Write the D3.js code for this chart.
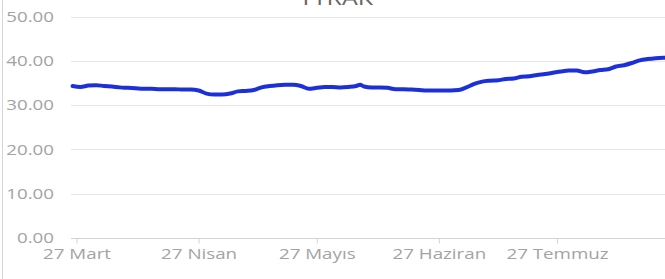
<!DOCTYPE html>
<html>
<head>
<meta charset="utf-8">
<script src="https://cdn.jsdelivr.net/npm/d3@7"></script>
<style>
  body { margin: 0; background: #fff; }
  svg { display: block; font-family: "Open Sans", sans-serif; }
</style>
</head>
<body>
<div class="plot"></div>
<script>
// TTRAK price series
const title = 'TTRAK';
const dates = [
    '2020-03-26', '2020-03-28', '2020-03-30', '2020-04-01', '2020-04-03', '2020-04-05',
    '2020-04-07', '2020-04-09', '2020-04-11', '2020-04-13', '2020-04-15', '2020-04-17',
    '2020-04-19', '2020-04-21', '2020-04-23', '2020-04-25', '2020-04-27', '2020-04-29',
    '2020-05-01', '2020-05-03', '2020-05-05', '2020-05-07', '2020-05-09', '2020-05-11',
    '2020-05-13', '2020-05-15', '2020-05-17', '2020-05-19', '2020-05-21', '2020-05-23',
    '2020-05-25', '2020-05-27', '2020-05-29', '2020-05-31', '2020-06-02', '2020-06-04',
    '2020-06-06', '2020-06-07', '2020-06-08', '2020-06-10', '2020-06-12', '2020-06-14',
    '2020-06-16', '2020-06-18', '2020-06-20', '2020-06-22', '2020-06-24', '2020-06-26',
    '2020-06-28', '2020-06-30', '2020-07-02', '2020-07-04', '2020-07-06', '2020-07-08',
    '2020-07-10', '2020-07-12', '2020-07-14', '2020-07-16', '2020-07-18', '2020-07-20',
    '2020-07-22', '2020-07-24', '2020-07-26', '2020-07-28', '2020-07-30', '2020-08-01',
    '2020-08-03', '2020-08-05', '2020-08-07', '2020-08-09', '2020-08-11', '2020-08-13',
    '2020-08-15', '2020-08-17', '2020-08-19', '2020-08-21', '2020-08-23', '2020-08-25'
];
const prices = [
    34.3, 34.1, 34.4, 34.5, 34.3, 34.2,
    34.0, 33.9, 33.8, 33.7, 33.7, 33.6,
    33.6, 33.6, 33.5, 33.5, 33.3, 32.6,
    32.4, 32.4, 32.6, 33.1, 33.2, 33.4,
    34.0, 34.3, 34.5, 34.6, 34.6, 34.3,
    33.7, 33.9, 34.1, 34.1, 34.0, 34.1,
    34.3, 34.6, 34.2, 34.0, 34.0, 33.9,
    33.6, 33.6, 33.5, 33.4, 33.3, 33.3,
    33.3, 33.3, 33.4, 34.0, 34.8, 35.3,
    35.5, 35.6, 35.9, 36.0, 36.4, 36.5,
    36.8, 37.0, 37.3, 37.6, 37.8, 37.8,
    37.4, 37.6, 37.9, 38.1, 38.7, 39.0,
    39.5, 40.1, 40.4, 40.6, 40.7, 40.6
];
const xTickDates = ['2020-03-27', '2020-04-27', '2020-05-27', '2020-06-27', '2020-07-27'];
const xTickLabels = ['27 Mart', '27 Nisan', '27 Mayıs', '27 Haziran', '27 Temmuz'];
const yTicks = [0, 10, 20, 30, 40, 50];

const W = 665, H = 279;
const parse = d3.timeParse('%Y-%m-%d');
const data = dates.map((d, i) => ({ date: parse(d), value: prices[i] }));
const stretch = 1.25; // reference text is drawn wide

const svg = d3.select('.plot')
    .append('svg')
    .attr('width', W)
    .attr('height', H);

// Mar 27 sits at x=76, Jul 27 at x=557
const xScale = d3.scaleTime()
    .domain([parse(xTickDates[0]), parse(xTickDates[4])])
    .range([76.5, 557]);

const yScale = d3.scaleLinear()
    .domain([0, 50])
    .range([238, 16.5]);

// frame line on the left
svg.append('line')
    .attr('x1', 2.5).attr('x2', 2.5)
    .attr('y1', 0).attr('y2', H)
    .attr('stroke', '#d6d6d6');

// gridlines
svg.append('g')
    .selectAll('line')
    .data(yTicks)
    .enter()
    .append('line')
    .attr('x1', 71)
    .attr('x2', W)
    .attr('y1', d => Math.round(yScale(d)) + 0.5)
    .attr('y2', d => Math.round(yScale(d)) + 0.5)
    .attr('stroke', d => d === 0 ? '#d4d4d4' : '#e6e6e6');

// y axis labels
const yAxis = d3.axisLeft(yScale)
    .tickValues(yTicks)
    .tickFormat(d3.format('.2f'))
    .tickSize(0)
    .tickPadding(0);

const yG = svg.append('g')
    .attr('transform', 'translate(54, 0)')
    .call(yAxis);
yG.select('.domain').remove();
yG.selectAll('text')
    .attr('fill', '#a3a3a3')
    .attr('font-size', '15px')
    .attr('font-family', '"Open Sans", sans-serif');

// x axis
const xAxis = d3.axisBottom(xScale)
    .tickValues(xTickDates.map(parse))
    .tickFormat((d, i) => xTickLabels[i])
    .tickSize(5)
    .tickPadding(5);

const xG = svg.append('g')
    .attr('transform', 'translate(0, 238.5)')
    .call(xAxis);
xG.select('.domain').remove();
xG.selectAll('line').attr('stroke', '#d4d4d4');
xG.selectAll('text')
    .attr('fill', '#a3a3a3')
    .attr('font-size', '15px')
    .attr('font-family', '"Open Sans", sans-serif');

// widen the texts like the reference
svg.selectAll('.tick text').each(function () {
    const w = this.getComputedTextLength();
    d3.select(this)
        .attr('textLength', w * stretch)
        .attr('lengthAdjust', 'spacingAndGlyphs');
});

// the price line
const line = d3.line()
    .x(d => xScale(d.date))
    .y(d => yScale(d.value))
    .curve(d3.curveMonotoneX);

svg.append('path')
    .datum(data)
    .attr('fill', 'none')
    .attr('stroke', '#1c30d8')
    .attr('stroke-width', 4)
    .attr('stroke-linejoin', 'round')
    .attr('stroke-linecap', 'round')
    .attr('d', line);

// title, cut by the top edge as in the reference
const t = svg.append('text')
    .text(title)
    .attr('x', 336)
    .attr('y', 5)
    .attr('text-anchor', 'middle')
    .attr('fill', '#666')
    .attr('font-size', '20px');
t.attr('textLength', t.node().getComputedTextLength() * stretch)
    .attr('lengthAdjust', 'spacingAndGlyphs');
</script>
</body>
</html>
